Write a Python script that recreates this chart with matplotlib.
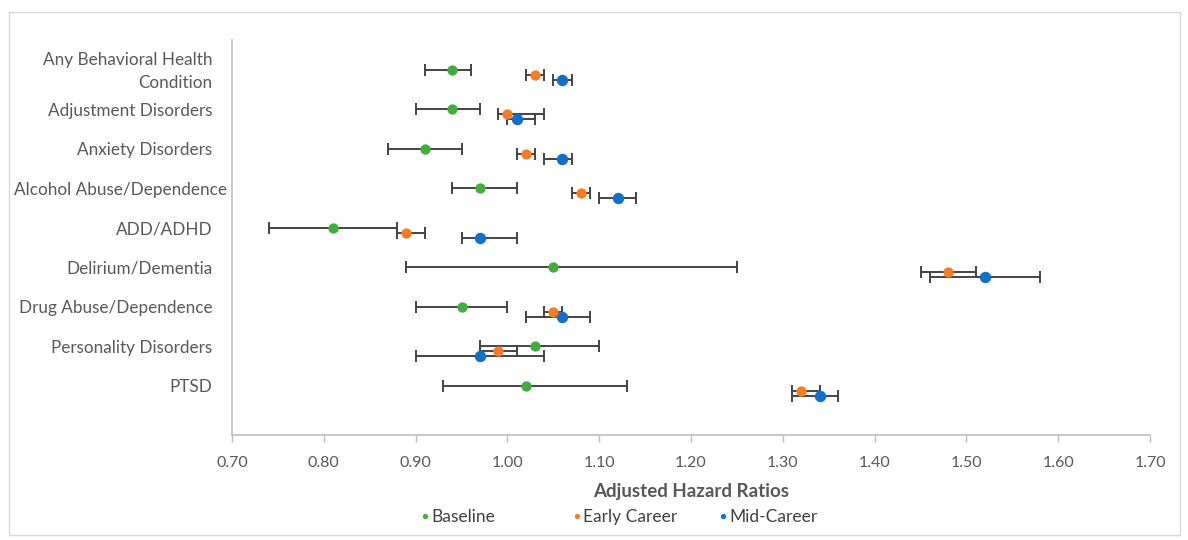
import matplotlib
matplotlib.use("Agg")
import matplotlib.pyplot as plt
from matplotlib.lines import Line2D
from matplotlib.patches import Rectangle
from matplotlib.transforms import ScaledTranslation
import numpy as np

plt.rcParams['font.family'] = ['Lato', 'DejaVu Sans']

categories = ["Any Behavioral Health\nCondition", "Adjustment Disorders", "Anxiety Disorders",
              "Alcohol Abuse/Dependence", "ADD/ADHD", "Delirium/Dementia",
              "Drug Abuse/Dependence", "Personality Disorders", "PTSD"]

baseline = [0.94, 0.94, 0.91, 0.97, 0.81, 1.05, 0.95, 1.03, 1.02]
baseline_lo = [0.91, 0.90, 0.87, 0.94, 0.74, 0.89, 0.90, 0.97, 0.93]
baseline_hi = [0.96, 0.97, 0.95, 1.01, 0.88, 1.25, 1.00, 1.10, 1.13]

early = [1.03, 1.00, 1.02, 1.08, 0.89, 1.48, 1.05, 0.99, 1.32]
early_lo = [1.02, 0.99, 1.01, 1.07, 0.88, 1.45, 1.04, 0.97, 1.31]
early_hi = [1.04, 1.04, 1.03, 1.09, 0.91, 1.51, 1.06, 1.01, 1.34]

mid = [1.06, 1.01, 1.06, 1.12, 0.97, 1.52, 1.06, 0.97, 1.34]
mid_lo = [1.05, 1.00, 1.04, 1.10, 0.95, 1.46, 1.02, 0.90, 1.31]
mid_hi = [1.07, 1.03, 1.07, 1.14, 1.01, 1.58, 1.09, 1.04, 1.36]

series_names = ["Baseline", "Early Career", "Mid-Career"]
colors = ["#41ad3a", "#fb7c23", "#1170cc"]
offsets = [9.25, 9.125, 9.0]
msizes = [7.4, 7.4, 8.2]

fig = plt.figure(figsize=(11.88, 5.40), dpi=100)
ax = fig.add_axes([232/1188, 1-435/540, 918/1188, 395/540])

data = [(baseline, baseline_lo, baseline_hi),
        (early, early_lo, early_hi),
        (mid, mid_lo, mid_hi)]
n = len(categories)
for k, (vals, lo, hi) in enumerate(data):
    v = np.array(vals)
    y = offsets[k] - np.arange(n)
    err = np.vstack([v - np.array(lo), np.array(hi) - v])
    ax.errorbar(v, y, xerr=err, fmt='none', ecolor='#444444', elinewidth=1.4,
                capsize=4, capthick=1.4, zorder=2)
    ax.plot(v, y, 'o', color=colors[k], markersize=msizes[k], markeredgewidth=0,
            zorder=3 + k)

ax.set_xlim(0.70, 1.70)
ax.set_ylim(0, 10)
ax.set_xticks(np.round(np.arange(0.70, 1.7001, 0.10), 2))
ax.set_xticklabels([f"{t:.2f}" for t in np.arange(0.70, 1.7001, 0.10)])
ax.set_yticks(offsets[0] - np.arange(n))
ax.set_yticklabels(categories, linespacing=1.6)

for s in ['top', 'right']:
    ax.spines[s].set_visible(False)
for s in ['left', 'bottom']:
    ax.spines[s].set_color('#bfbfbf')
    ax.spines[s].set_linewidth(1.2)

ax.tick_params(axis='x', direction='out', length=5, width=1, color='#bfbfbf',
               labelsize=11.5, labelcolor='#595959', pad=10)
ax.tick_params(axis='y', length=0, labelsize=12.3, labelcolor='#595959', pad=14)

# long label overflows to the right as in the reference; two-line label sits a bit higher
for lab in ax.get_yticklabels():
    if lab.get_text().startswith("Alcohol"):
        lab.set_transform(lab.get_transform() + ScaledTranslation(0.14, 0, fig.dpi_scale_trans))
    if lab.get_text().startswith("Any"):
        lab.set_transform(lab.get_transform() + ScaledTranslation(0, 0.035, fig.dpi_scale_trans))

ax.set_xlabel("Adjusted Hazard Ratios", fontsize=13.5, fontweight='bold', color='#595959')
ax.xaxis.set_label_coords(0.5, (435-492)/395)
ax.xaxis.label.set_va('center')

# legend entries
leg_x = [421, 573, 719]
for name, c, x in zip(series_names, colors, leg_x):
    h = Line2D([], [], marker='o', color=c, linestyle='none', markersize=3.8, markeredgewidth=0)
    lg = fig.legend(handles=[h], labels=[name], loc='center left',
                    bbox_to_anchor=(x/1188, 1-517/540), frameon=False,
                    handlelength=0.5, handletextpad=0.1, borderaxespad=0, borderpad=0,
                    prop={'size': 12.5})
    for t in lg.get_texts():
        t.set_color('#404040')

fig.patches.append(Rectangle((9/1188, 1-535/540), 1171/1188, 523/540,
                             transform=fig.transFigure, fill=False,
                             edgecolor='#d9d9d9', linewidth=1))

fig.savefig("out.png", dpi=100)
